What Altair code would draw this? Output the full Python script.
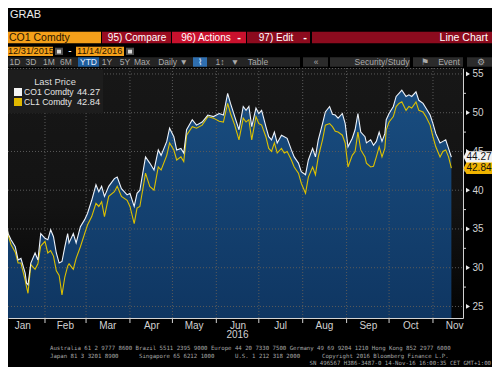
import altair as alt
import pandas as pd

# ---------------- data ----------------
dates = [
    "2015-12-31", "2016-01-04", "2016-01-06", "2016-01-08", "2016-01-11", "2016-01-13", "2016-01-15", "2016-01-18", "2016-01-19", "2016-01-20",
    "2016-01-22", "2016-01-25", "2016-01-27", "2016-01-29", "2016-02-01", "2016-02-03", "2016-02-05", "2016-02-07", "2016-02-09", "2016-02-11",
    "2016-02-13", "2016-02-15", "2016-02-17", "2016-02-18", "2016-02-21", "2016-02-23", "2016-02-26", "2016-02-29", "2016-03-02", "2016-03-05",
    "2016-03-08", "2016-03-10", "2016-03-12", "2016-03-14", "2016-03-17", "2016-03-21", "2016-03-23", "2016-03-26", "2016-03-30", "2016-04-01",
    "2016-04-04", "2016-04-06", "2016-04-08", "2016-04-12", "2016-04-15", "2016-04-18", "2016-04-21", "2016-04-23", "2016-04-27", "2016-04-29",
    "2016-05-02", "2016-05-04", "2016-05-07", "2016-05-09", "2016-05-11", "2016-05-15", "2016-05-18", "2016-05-22", "2016-05-26", "2016-05-30",
    "2016-06-03", "2016-06-06", "2016-06-09", "2016-06-11", "2016-06-14", "2016-06-17", "2016-06-20", "2016-06-22", "2016-06-24", "2016-06-26",
    "2016-06-29", "2016-07-01", "2016-07-03", "2016-07-06", "2016-07-08", "2016-07-10", "2016-07-12", "2016-07-14", "2016-07-17", "2016-07-19",
    "2016-07-21", "2016-07-24", "2016-07-26", "2016-07-29", "2016-07-31", "2016-08-03", "2016-08-05", "2016-08-08", "2016-08-10", "2016-08-12",
    "2016-08-15", "2016-08-17", "2016-08-20", "2016-08-22", "2016-08-24", "2016-08-26", "2016-08-29", "2016-08-31", "2016-09-02", "2016-09-05",
    "2016-09-07", "2016-09-09", "2016-09-11", "2016-09-14", "2016-09-15", "2016-09-18", "2016-09-20", "2016-09-22", "2016-09-24", "2016-09-26",
    "2016-09-28", "2016-09-29", "2016-10-01", "2016-10-04", "2016-10-06", "2016-10-08", "2016-10-10", "2016-10-13", "2016-10-15", "2016-10-17",
    "2016-10-20", "2016-10-22", "2016-10-25", "2016-10-27", "2016-10-30", "2016-11-01", "2016-11-03", "2016-11-06", "2016-11-08", "2016-11-10",
    "2016-11-12", "2016-11-14",
]

co1 = [
    37.2, 36.6, 34.4, 33.6, 32.7, 31.0, 31.2, 29.3, 28.0, 27.8,
    30.6, 31.9, 31.0, 34.4, 33.8, 33.6, 34.9, 34.0, 31.9, 30.6,
    30.8, 32.7, 34.4, 33.2, 34.4, 33.2, 35.3, 36.2, 37.0, 38.7,
    40.7, 39.8, 40.5, 39.2, 40.5, 41.5, 41.7, 40.2, 39.4, 39.6,
    37.9, 39.6, 40.0, 44.3, 43.5, 42.6, 45.2, 44.5, 46.3, 48.0,
    46.9, 45.2, 45.4, 44.8, 47.8, 49.1, 48.4, 48.8, 49.7, 49.5,
    49.9, 49.7, 52.5, 51.2, 49.5, 47.8, 50.8, 50.3, 50.8, 48.2,
    50.6, 49.9, 50.3, 48.2, 46.9, 46.5, 47.5, 46.1, 47.1, 46.9,
    46.7, 45.2, 44.3, 43.5, 42.4, 42.0, 43.9, 45.4, 44.3, 46.5,
    48.6, 50.1, 50.8, 49.8, 49.7, 49.3, 49.9, 48.6, 45.6, 46.7,
    47.8, 49.9, 47.5, 46.9, 46.1, 46.5, 45.8, 46.3, 47.5, 46.3,
    47.3, 49.1, 49.9, 50.8, 52.1, 52.5, 52.9, 52.1, 52.3, 52.1,
    52.7, 51.6, 51.2, 50.6, 49.7, 48.6, 47.3, 46.1, 46.3, 46.5,
    45.4, 44.27,
]

cl1 = [
    37.0, 36.0, 34.2, 33.0, 32.0, 30.6, 30.6, 28.4, 27.5, 26.7,
    30.4, 29.8, 30.5, 32.8, 33.4, 31.9, 32.2, 31.5, 29.6, 29.0,
    26.5, 28.8, 30.2, 30.5, 29.8, 31.2, 32.7, 34.4, 35.5, 36.6,
    38.3, 37.9, 38.5, 36.6, 39.2, 39.8, 40.5, 39.2, 38.7, 37.9,
    35.7, 37.7, 37.9, 42.2, 40.5, 40.0, 43.0, 42.6, 44.5, 46.1,
    45.2, 43.9, 44.3, 43.7, 47.1, 48.2, 48.0, 48.4, 49.5, 49.3,
    48.9, 48.8, 51.2, 49.9, 48.4, 46.5, 49.3, 48.8, 49.1, 46.5,
    49.5, 48.6, 48.4, 46.9, 45.4, 45.0, 46.1, 44.8, 45.4, 44.8,
    45.0, 43.9, 43.0, 42.2, 40.9, 39.6, 41.7, 43.0, 42.0, 44.3,
    46.5, 48.4, 48.6, 48.2, 47.6, 47.5, 47.1, 46.1, 43.0, 44.5,
    45.0, 47.5, 45.2, 44.3, 43.5, 43.0, 43.1, 44.3, 45.6, 44.3,
    45.4, 47.8, 48.8, 49.5, 50.8, 51.2, 51.4, 50.3, 50.8, 50.6,
    51.4, 50.3, 50.1, 49.5, 48.4, 46.9, 45.6, 44.3, 45.0, 45.2,
    44.3, 42.84,
]

series_names = ["CO1 Comdty", "CL1 Comdty"]
last_values = [44.27, 42.84]
last_labels = ["44.27", "42.84"]
y_major = [25, 30, 35, 40, 45, 50, 55]
y_minor = [27.5, 32.5, 37.5, 42.5, 47.5, 52.5]
month_starts = ["2016-01-01", "2016-02-01", "2016-03-01", "2016-04-01", "2016-05-01", "2016-06-01",
                "2016-07-01", "2016-08-01", "2016-09-01", "2016-10-01", "2016-11-01"]
month_mids = [(1, 16), (2, 15), (3, 16), (4, 16), (5, 16), (6, 16), (7, 16), (8, 16), (9, 16), (10, 16), (11, 16)]
year_label = ["2016"]
year_label_date = ["2016-06-16"]

# ---------------- styles ----------------
W, H = 455, 250
FONT = "Liberation Sans, Arial, sans-serif"
MONO = "DejaVu Sans Mono, monospace"
LBL = "#d2d2d2"
GRID = "#5a5a5a"
WHITE_LINE = "#eef3fa"
YELLOW_LINE = "#dcc000"
box_fills = ["#f2f2f2", "#f0b400"]
ORANGE = "#f5a01a"

df = pd.DataFrame({"date": dates, "co1": co1, "cl1": cl1})
one = pd.DataFrame({"k": [0]})


def dt(y, m, d, h=0):
    return alt.DateTime(year=y, month=m, date=d, hours=h)


xscale = alt.Scale(domain=[dt(2016, 1, 5, 21), dt(2016, 11, 22, 5)], nice=False)
yscale = alt.Scale(domain=[23.51, 55.77], nice=False, zero=False)

xaxis = alt.Axis(values=[dt(2016, m, d) for m, d in month_mids], format="%b",
                 ticks=False, labelFlush=False, labelOverlap=False,
                 labelColor=LBL, labelFont=FONT, labelFontSize=10, labelPadding=2,
                 domainColor=LBL, grid=False, title=None)
yaxis = alt.Axis(orient="right", values=y_major, format="d", ticks=False,
                 labelColor=LBL, labelFont=FONT, labelFontSize=10, labelPadding=9,
                 domainColor=LBL, grid=False, title=None)

X = lambda f: alt.X(f, scale=xscale, axis=xaxis)
Y = lambda f: alt.Y(f, scale=yscale, axis=yaxis)


def grad(stops):
    return alt.Gradient(gradient="linear",
                        stops=[alt.GradientStop(color=c, offset=o) for o, c in stops],
                        x1=0, x2=0, y1=0, y2=1)


def rect(x1, x2, y1, y2, color):
    return alt.Chart(one).mark_rect(color=color).encode(
        x=alt.value(x1), x2=alt.value(x2), y=alt.value(y1), y2=alt.value(y2))


def text(s, x, y, size=10, color="#e6e6e6", align="left", font=FONT, weight="normal"):
    return alt.Chart(one).mark_text(align=align, baseline="middle", fontSize=size,
                                    color=color, font=font, fontWeight=weight).encode(
        x=alt.value(x), y=alt.value(y), text=alt.value(s))


layers = []

# plot background
layers.append(rect(0, W, 0, H, grad([(0, "#171717"), (0.55, "#131313"), (0.8, "#0b0b0b"), (1, "#030303")])))

# area under CO1
layers.append(alt.Chart(df).mark_area(
    clip=True, color=grad([(0, "#194d80"), (0.55, "#0f3662"), (1, "#0a2343")])
).encode(x=X("date:T"), y=Y("co1:Q"), y2=alt.value(H)))

# grid
layers.append(alt.Chart(pd.DataFrame({"v": y_major})).mark_rule(
    color=GRID, strokeDash=[1, 2], strokeWidth=1).encode(y=Y("v:Q"), x=alt.value(0), x2=alt.value(W)))
layers.append(alt.Chart(pd.DataFrame({"d": month_starts[1:]})).mark_rule(
    color=GRID, strokeDash=[1, 2], strokeWidth=1).encode(x=X("d:T"), y=alt.value(0), y2=alt.value(H)))
layers.append(alt.Chart(one).mark_rule(color=GRID, strokeDash=[1, 2], strokeWidth=1).encode(
    x=alt.value(0), x2=alt.value(W), y=alt.value(0.5)))

# month ticks below x axis
layers.append(alt.Chart(pd.DataFrame({"d": month_starts[1:]})).mark_rule(color=LBL, strokeWidth=1).encode(
    x=X("d:T"), y=alt.value(H), y2=alt.value(H + 5)))

# lines
layers.append(alt.Chart(df).mark_line(clip=True, color=YELLOW_LINE, strokeWidth=1.1).encode(
    x=X("date:T"), y=Y("cl1:Q")))
layers.append(alt.Chart(df).mark_line(clip=True, color=WHITE_LINE, strokeWidth=1.1).encode(
    x=X("date:T"), y=Y("co1:Q")))

# year label under June
layers.append(alt.Chart(pd.DataFrame({"d": year_label_date, "t": year_label})).mark_text(
    align="center", baseline="middle", fontSize=10, font=FONT, color=LBL).encode(
    x=X("d:T"), y=alt.value(H + 17), text="t:N"))

# legend box
layers.append(rect(0, 95, 2, 45, "#1d1d1d"))
layers.append(text("Last Price", 47, 13.5, size=9.4, color="#dcdcdc", align="center"))
layers.append(rect(6, 14, 20, 28, "#f4f4f4"))
layers.append(rect(6, 14, 30, 38, "#e0b800"))
layers.append(text(series_names[0], 16, 24, size=8.6, color="#e6e6e6"))
layers.append(text(series_names[1], 16, 34, size=8.6, color="#e6e6e6"))
layers.append(text(last_labels[0], 92, 24, size=9.2, color="#e6e6e6", align="right"))
layers.append(text(last_labels[1], 92, 34, size=9.2, color="#e6e6e6", align="right"))

# right axis minor ticks and arrow ticks
layers.append(alt.Chart(pd.DataFrame({"v": y_minor})).mark_rule(color=LBL, strokeWidth=1).encode(
    y=Y("v:Q"), x=alt.value(W), x2=alt.value(W + 3)))
layers.append(alt.Chart(pd.DataFrame({"v": y_major})).mark_point(
    shape="triangle-right", filled=True, size=22, color="#e8e8e8", opacity=1).encode(
    y=Y("v:Q"), x=alt.value(W + 5)))

# last value boxes on the axis
BOX = "M -1.15 0 L -0.93 -0.43 L 1 -0.43 L 1 0.43 L -0.93 0.43 Z"
for v, lab, fill in zip(last_values, last_labels, box_fills):
    d1 = pd.DataFrame({"v": [v], "t": [lab]})
    layers.append(alt.Chart(d1).mark_point(shape=BOX, filled=True, size=730, color=fill,
                                           opacity=1, strokeWidth=0).encode(
        y=Y("v:Q"), x=alt.value(W + 16)))
    layers.append(alt.Chart(d1).mark_text(align="center", baseline="middle", fontSize=10,
                                          font=FONT, color="#111111").encode(
        y=Y("v:Q"), x=alt.value(W + 16), text="t:N"))

# ---------------- terminal header ----------------
layers.append(text("GRAB", 2, -53.5, size=11, color="#ececec"))
# row 1
r1a, r1b, r1c = -36.3, -24.7, -30.5
layers.append(rect(0, 93, r1a, r1b, ORANGE))
layers.append(rect(94, 163, r1a, r1b, "#9a0c21"))
layers.append(rect(164, 238, r1a, r1b, "#c8112d"))
layers.append(rect(239, 302, r1a, r1b, "#8c0b1e"))
layers.append(rect(304, 487, r1a, r1b, "#8c0b1e"))
layers.append(text("CO1 Comdty", 1, r1c, size=10.5, color="#2a1600"))
layers.append(text("95) Compare", 129, r1c, size=10, color="#ffffff", align="center"))
layers.append(text("96) Actions", 198, r1c, size=10, color="#ffffff", align="center"))
layers.append(text("-", 231, r1c, size=11, color="#ffffff", align="center", weight="bold"))
layers.append(text("97) Edit", 268, r1c, size=10, color="#ffffff", align="center"))
layers.append(text("-", 297, r1c, size=11, color="#ffffff", align="center", weight="bold"))
layers.append(text("Line Chart", 480, r1c, size=10.5, color="#ffffff", align="right"))
# row 2
r2a, r2b, r2c = -21.3, -12, -16.6
layers.append(rect(0, 45, r2a, r2b, ORANGE))
layers.append(text("12/31/2015", 0, r2c, size=9.2, color="#2a1600"))
layers.append(rect(47, 55, r2a + 1, r2b - 1, "#4e4e4e"))
layers.append(rect(49, 53, r2a + 3, r2b - 2.5, "#d8d8d8"))
layers.append(text("-", 62, r2c, size=10, color="#ffffff", align="center"))
layers.append(rect(68, 116, r2a, r2b, ORANGE))
layers.append(text("11/14/2016", 69, r2c, size=9.2, color="#2a1600"))
layers.append(rect(118, 126, r2a + 1, r2b - 1, "#4e4e4e"))
layers.append(rect(120, 124, r2a + 3, r2b - 2.5, "#d8d8d8"))
# row 3 toolbar
r3a, r3b, r3c = -10.7, -1.3, -6
layers.append(rect(0, 292, r3a, r3b, "#242424"))
layers.append(rect(295, 320, r3a, r3b, "#2b2b2b"))
layers.append(rect(322, 402, r3a, r3b, "#2b2b2b"))
layers.append(rect(405, 455, r3a, r3b, "#2b2b2b"))
layers.append(rect(459, 487, r3a, r3b, "#2b2b2b"))
layers.append(rect(70, 91, r3a, r3b, "#1f5d9c"))
layers.append(rect(185, 199, r3a, r3b, "#2f6fb0"))
TB = "#aaaaaa"
for s, x in [("1D", 7), ("3D", 23), ("1M", 41), ("6M", 58), ("1Y", 99), ("5Y", 117),
             ("Max", 134), ("Daily ▼", 165), ("1↕", 212), ("▼", 227), ("Table", 250),
             ("«", 308), ("Security/Study", 374), ("⚑", 417), ("Event", 441), ("⚙", 473)]:
    layers.append(text(s, x, r3c, size=8.5, color=TB, align="center"))
layers.append(text("YTD", 80.5, r3c, size=8.5, color="#e8f0ff", align="center"))
layers.append(text("⌇", 192, r3c, size=8.5, color="#e8f0ff", align="center"))

# ---------------- footer ----------------
FT = "#a8a8a8"
layers.append(text("Australia 61 2 9777 8600 Brazil 5511 2395 9000 Europe 44 20 7330 7500 "
                   "Germany 49 69 9204 1210 Hong Kong 852 2977 6000", 42, 280.3, size=5.7, color=FT, font=MONO))
layers.append(text("Japan 81 3 3201 8900", 42, 287.7, size=5.7, color=FT, font=MONO))
layers.append(text("Singapore 65 6212 1000", 131, 287.7, size=5.7, color=FT, font=MONO))
layers.append(text("U.S. 1 212 318 2000", 227, 287.7, size=5.7, color=FT, font=MONO))
layers.append(text("Copyright 2016 Bloomberg Finance L.P.", 314, 287.7, size=5.7, color=FT, font=MONO))
layers.append(text("SN 496567 H386-3487-0 14-Nov-16 16:00:35 CET  GMT+1:00", 483, 294.7,
                   size=5.7, color=FT, font=MONO, align="right"))

chart = alt.layer(*layers).properties(
    width=W, height=H, background="#000000",
    padding={"left": 0, "top": 60, "right": 484 - W, "bottom": 359 - 60 - H},
    autosize=alt.AutoSizeParams(type="none"),
).configure_view(strokeWidth=0)

chart.save("out.html", embed_options={"renderer": "svg", "actions": False})
